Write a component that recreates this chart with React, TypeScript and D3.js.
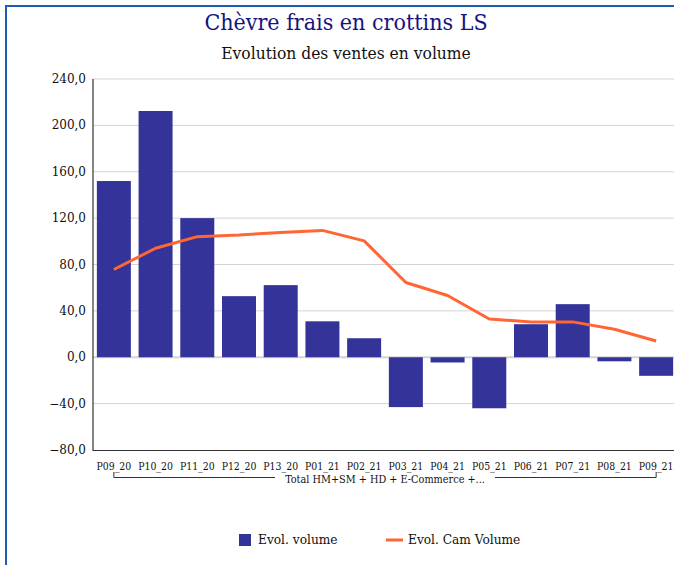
import React from "react";
import * as d3 from "d3";

const categories = ["P09_20","P10_20","P11_20","P12_20","P13_20","P01_21","P02_21","P03_21","P04_21","P05_21","P06_21","P07_21","P08_21","P09_21"];
const volumeValues = [152, 212.4, 120, 52.7, 62.2, 31, 16.4, -43, -4.5, -44, 28.5, 45.8, -3.5, -16];
const camValues = [75.7, 94, 104, 105.4, 107.7, 109.4, 100.4, 64.5, 53.3, 33, 30.5, 30.5, 24.2, 14];
const yTicks = [-80, -40, 0, 40, 80, 120, 160, 200, 240];
const title = "Chèvre frais en crottins LS";
const subtitle = "Evolution des ventes en volume";
const groupLabel = "Total HM+SM + HD + E-Commerce +...";
const seriesNames = ["Evol. volume", "Evol. Cam Volume"];

const W = 674, H = 565;
const BAR = "#333399";
const LINE = "#ff6633";

export default function App() {
  const x = d3.scaleBand<string>().domain(categories).range([93, 677]).paddingInner(0.185).paddingOuter(0.0925);
  const y = d3.scaleLinear().domain([-80, 240]).range([450, 79]);
  const fmt = (v: number) => d3.format(".1f")(v).replace(".", ",");
  const line = d3.line<number>().x((_, i) => (x(categories[i]) as number) + x.bandwidth() / 2).y((d) => y(d));
  const c0 = (x(categories[0]) as number) + x.bandwidth() / 2;
  const cN = (x(categories[categories.length - 1]) as number) + x.bandwidth() / 2;
  const gMid = (c0 + cN) / 2;
  const gapHalf = 110;
  return (
    <svg width={W} height={H} style={{ position: "absolute", left: 0, top: 0, background: "#fff" }}>
      <rect x={6} y={6} width={W + 20} height={H + 20} fill="#fff" stroke="#1c5fb2" strokeWidth={2} />
      <text x={346} y={30} textAnchor="middle" fontFamily="DejaVu Serif Condensed, DejaVu Serif" fontSize={23} fill="#141480">{title}</text>
      <text x={346} y={59} textAnchor="middle" fontFamily="DejaVu Serif Condensed, DejaVu Serif" fontSize={17.3} fill="#111">{subtitle}</text>
      {yTicks.filter((t) => t !== -80 && t !== 0).map((t) => (
        <line key={"g" + t} x1={93} x2={W} y1={y(t)} y2={y(t)} stroke="#d4d4d4" strokeWidth={1} />
      ))}
      <line x1={93} x2={W} y1={y(0)} y2={y(0)} stroke="#d4d4d4" strokeWidth={2} />
      {yTicks.map((t) => (
        <text key={"t" + t} x={86} y={y(t) + 4} textAnchor="end" fontFamily="DejaVu Serif" fontSize={12} fill="#111">{fmt(t)}</text>
      ))}
      {categories.map((c, i) => {
        const v = volumeValues[i];
        return <rect key={c} x={x(c)} y={y(Math.max(0, v))} width={x.bandwidth()} height={Math.abs(y(v) - y(0))} fill={BAR} />;
      })}
      <path d={line(camValues) || ""} fill="none" stroke={LINE} strokeWidth={3} strokeLinejoin="round" />
      <line x1={93} x2={93} y1={79} y2={451} stroke="#333" strokeWidth={1.2} />
      <line x1={93} x2={W} y1={450.5} y2={450.5} stroke="#333" strokeWidth={1.2} />
      {categories.map((c) => (
        <text key={"l" + c} x={(x(c) as number) + x.bandwidth() / 2} y={469.5} textAnchor="middle" fontFamily="DejaVu Serif Condensed, DejaVu Serif" fontSize={10.4} fill="#111">{c}</text>
      ))}
      <path d={`M${c0},472V477.5H${gMid - gapHalf}M${gMid + gapHalf},477.5H${cN}V472`} fill="none" stroke="#333" strokeWidth={1} />
      <text x={gMid} y={482.5} textAnchor="middle" fontFamily="DejaVu Serif Condensed, DejaVu Serif" fontSize={10.8} fill="#111">{groupLabel}</text>
      <rect x={239} y={534} width={12} height={12} fill={BAR} />
      <text x={258} y={544} fontFamily="DejaVu Serif" fontSize={12.2} fill="#111">{seriesNames[0]}</text>
      <line x1={386} x2={403} y1={540} y2={540} stroke={LINE} strokeWidth={3} />
      <text x={408} y={544} fontFamily="DejaVu Serif" fontSize={12.2} fill="#111">{seriesNames[1]}</text>
    </svg>
  );
}
